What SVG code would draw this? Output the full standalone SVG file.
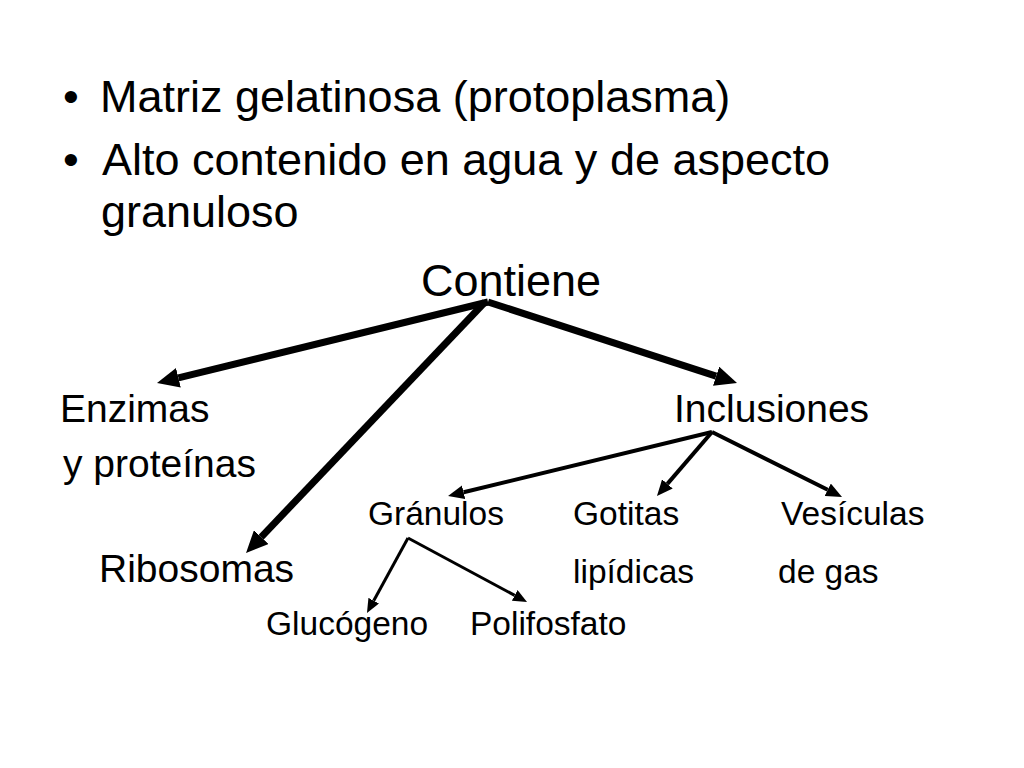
<svg xmlns="http://www.w3.org/2000/svg" width="1024" height="768" viewBox="0 0 1024 768">
<style>
text{font-family:"Liberation Sans",Arial,sans-serif;fill:#000}
.b{font-size:45px}
.m{font-size:39px}
.s{font-size:33.5px}
.c{fill:none;stroke:#000}
.t1{stroke-width:7}
.t2{stroke-width:4}
.t3{stroke-width:3}
</style>
<defs>
<marker id="h1" markerUnits="userSpaceOnUse" viewBox="0 -10 22 20" markerWidth="22" markerHeight="20" refX="0" refY="0" orient="auto"><path d="M0,-10L22,0L0,10z" fill="#000"/></marker>
<marker id="h2" markerUnits="userSpaceOnUse" viewBox="0 -7 16 14" markerWidth="16" markerHeight="14" refX="0" refY="0" orient="auto"><path d="M0,-7L16,0L0,7z" fill="#000"/></marker>
<marker id="h3" markerUnits="userSpaceOnUse" viewBox="0 -6 14 12" markerWidth="14" markerHeight="12" refX="0" refY="0" orient="auto"><path d="M0,-6L14,0L0,6z" fill="#000"/></marker>
</defs>
<rect width="1024" height="768" fill="#fff"/>
<g id="bullets">
<text class="b" x="63" y="112">•</text>
<text class="b" x="100" y="112">Matriz gelatinosa (protoplasma)</text>
<text class="b" x="63" y="175">•</text>
<text class="b" x="102" y="175">Alto contenido en agua y de aspecto</text>
<text class="b" x="101" y="227">granuloso</text>
</g>
<g id="contiene"><text class="b" x="421" y="296">Contiene</text></g>
<g id="enzimas"><text class="m" x="60" y="422">Enzimas</text><text class="m" x="63" y="477">y proteínas</text></g>
<g id="ribosomas"><text class="m" x="99" y="582">Ribosomas</text></g>
<g id="inclusiones"><text class="m" x="674" y="422">Inclusiones</text></g>
<g id="granulos"><text class="s" x="368" y="525">Gránulos</text></g>
<g id="gotitas"><text class="s" x="573" y="525">Gotitas</text><text class="s" x="573" y="583">lipídicas</text></g>
<g id="vesiculas"><text class="s" x="781" y="525">Vesículas</text><text class="s" x="778" y="583">de gas</text></g>
<g id="glucogeno"><text class="s" x="266" y="635">Glucógeno</text></g>
<g id="polifosfato"><text class="s" x="470" y="635">Polifosfato</text></g>
<g id="connectors">
<line class="c t1" x1="488" y1="302" x2="178.4" y2="377.8" marker-end="url(#h1)"/>
<line class="c t1" x1="488" y1="302" x2="716.1" y2="376.2" marker-end="url(#h1)"/>
<line class="c t1" x1="485" y1="302" x2="261.2" y2="537.1" marker-end="url(#h1)"/>
<line class="c t2" x1="712" y1="432" x2="463.6" y2="492.2" marker-end="url(#h2)"/>
<line class="c t2" x1="712" y1="432" x2="667.4" y2="483.9" marker-end="url(#h2)"/>
<line class="c t2" x1="712" y1="432" x2="827.7" y2="489.8" marker-end="url(#h2)"/>
<line class="c t3" x1="408" y1="538" x2="373.7" y2="600.7" marker-end="url(#h3)"/>
<line class="c t3" x1="408" y1="538" x2="514.7" y2="595.4" marker-end="url(#h3)"/>
</g>
</svg>
